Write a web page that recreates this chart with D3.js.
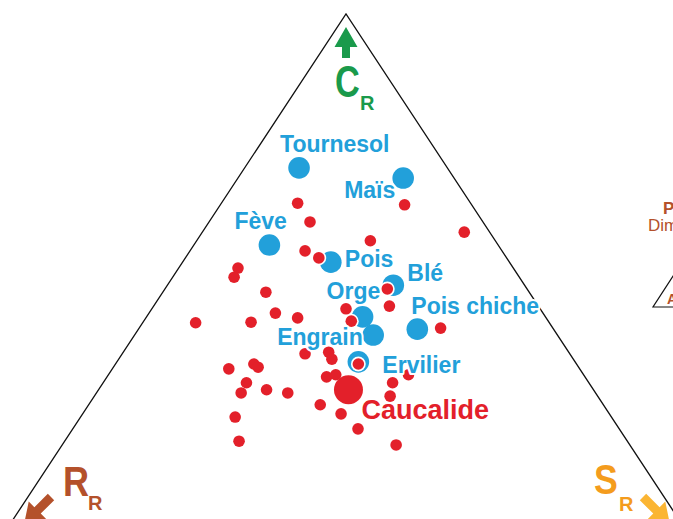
<!DOCTYPE html>
<html><head><meta charset="utf-8">
<script src="https://cdn.jsdelivr.net/npm/d3@7"></script>
<style>html,body{margin:0;padding:0;background:#fff;}svg{display:block;}</style>
</head><body>
<svg id="chart" width="673" height="519"></svg>
<script>
// ---- DATA (ternary C-S-R coordinates, %) ----
const crops = ["Tournesol","Maïs","Fève","Pois","Blé","Orge","Engrain","Pois chiche","Ervilier"];
const cropC = [71.3, 69.4, 56.9, 53.7, 49.4, 43.5, 40.1, 41.2, 35.1];
const cropS = [ 7.7, 23.4, 10.7, 21.0, 32.0, 30.6, 33.8, 39.5, 34.2];
const cropR = [21.0,  7.2, 32.4, 25.3, 18.6, 25.9, 26.1, 19.3, 30.7];

const focus = ["Caucalide"];
const focusC = [29.9];
const focusS = [35.4];
const focusR = [34.7];

const weedC = [64.7,61.2,64.4,59.3,57.7,55.8,54.5,52.6,50.9,48.1,48.7,45.5,45.0,42.7,44.2,43.3,42.5,42.4,41.4,36.6,36.9,35.6,34.7,33.8,34.7,34.1,31.2,29.3,29.9,29.3,32.3,32.7,31.2,32.7,28.7,27.1,25.4,24.8,20.3,22.6,19.6];
const weedS = [10.8,14.3,26.1,37.1,24.6,16.3,18.9, 8.4, 8.7,14.6,31.5,33.4,27.5,29.4,17.9,21.5,15.3, 7.5,42.7,25.9,29.1,30.2,34.4,16.5,19.6,20.5,20.3,20.5,23.8,27.1,31.1,32.2,41.0,42.5,41.9,32.8,36.6,21.9,24.7,40.4,47.3];
const weedR = [24.5,24.5, 9.5, 3.6,17.7,27.9,26.6,39.0,40.4,37.3,19.8,21.1,27.5,27.9,37.9,35.2,42.2,50.1,15.9,37.5,34.0,34.2,30.9,49.7,45.7,45.4,48.5,50.2,46.3,43.6,36.6,35.1,27.8,24.8,29.4,40.1,38.0,53.3,55.0,37.0,33.1];

const axisLetters = ["C","R","S"];
const axisSub = "R";

// ---- LAYOUT ----
const BLUE = "#22a0da", RED = "#e3202a", GREEN = "#1a9a4b", BROWN = "#b4512b", ORANGE = "#f49c1d", ORANGE_ARROW = "#fbb533";
const FONT = "'Liberation Sans', Arial, Helvetica, sans-serif";
const cx = 346, apexY = 14, baseY = 550, halfBase = 353;

const yScale = d3.scaleLinear().domain([0, 100]).range([baseY, apexY]);      // C share
const xScale = d3.scaleLinear().domain([-100, 100]).range([cx - halfBase, cx + halfBase]); // S - R
const proj = (c, s, r) => [xScale(s - r), yScale(c)];

const svg = d3.select("#chart");

// triangle frame
const Vc = proj(100, 0, 0), Vr = proj(0, 0, 100), Vs = proj(0, 100, 0);
svg.append("path")
  .attr("d", d3.line()([Vr, Vc, Vs]))
  .attr("fill", "none").attr("stroke", "#111").attr("stroke-width", 1.3);

// crop points
const cropData = crops.map((n, i) => ({name: n, p: proj(cropC[i], cropS[i], cropR[i])}));
svg.append("g").selectAll("circle").data(cropData).join("circle")
  .attr("cx", d => d.p[0]).attr("cy", d => d.p[1]).attr("r", 10.8).attr("fill", BLUE);

// weed points (white halo layer then fill)
const weedData = weedC.map((c, i) => proj(c, weedS[i], weedR[i]));
svg.append("g").selectAll("circle").data(weedData).join("circle")
  .attr("cx", d => d[0]).attr("cy", d => d[1]).attr("r", 7.4).attr("fill", "#fff");
svg.append("g").selectAll("circle").data(weedData).join("circle")
  .attr("cx", d => d[0]).attr("cy", d => d[1]).attr("r", 5.8).attr("fill", RED);

// focus species
const focusData = focus.map((n, i) => ({name: n, p: proj(focusC[i], focusS[i], focusR[i])}));
svg.append("g").selectAll("circle").data(focusData).join("circle")
  .attr("cx", d => d.p[0]).attr("cy", d => d.p[1]).attr("r", 14.5).attr("fill", RED);

// labels
const labelOffset = {
  "Tournesol": [-19, -16], "Maïs": [-59, 20], "Fève": [-35, -16], "Pois": [14, 5],
  "Blé": [14, -4], "Orge": [-36, -18], "Engrain": [-96, 10], "Pois chiche": [-6, -15],
  "Ervilier": [24, 11], "Caucalide": [13, 29]
};
const lab = svg.append("g").attr("font-family", FONT).attr("font-weight", "bold");
lab.selectAll("text.crop").data(cropData).join("text").attr("class", "crop")
  .attr("x", d => d.p[0] + labelOffset[d.name][0]).attr("y", d => d.p[1] + labelOffset[d.name][1])
  .attr("font-size", 23).attr("fill", BLUE)
  .attr("stroke", "#fff").attr("stroke-width", 4).attr("paint-order", "stroke").attr("stroke-linejoin", "round")
  .text(d => d.name);
lab.selectAll("text.focus").data(focusData).join("text").attr("class", "focus")
  .attr("x", d => d.p[0] + labelOffset[d.name][0]).attr("y", d => d.p[1] + labelOffset[d.name][1])
  .attr("font-size", 27).attr("fill", RED)
  .attr("stroke", "#fff").attr("stroke-width", 4).attr("paint-order", "stroke").attr("stroke-linejoin", "round")
  .text(d => d.name);

// axis letters
function axisLabel(letter, x, y, size, sx, color) {
  const g = svg.append("g").attr("font-family", FONT).attr("font-weight", "bold").attr("fill", color);
  g.append("text").attr("transform", `translate(${x},${y}) scale(${sx},1)`).attr("font-size", size).text(letter);
  return g;
}
const gC = axisLabel(axisLetters[0], Vc[0] - 11, Vc[1] + 82.5, 44, 0.78, GREEN);
gC.append("text").attr("x", Vc[0] + 14).attr("y", Vc[1] + 96).attr("font-size", 20).text(axisSub);
const gR = axisLabel(axisLetters[1], 63, 495.5, 43, 0.84, BROWN);
gR.append("text").attr("x", 88).attr("y", 510).attr("font-size", 20).text(axisSub);
const gS = axisLabel(axisLetters[2], 594, 494, 42, 0.85, ORANGE);
gS.append("text").attr("x", 619).attr("y", 511).attr("font-size", 20).text(axisSub);

// arrows
function arrow(x0, y0, angleDeg, len, headLen, headHalf, shaftHalf, color) {
  const pts = [[0, -shaftHalf], [len - headLen, -shaftHalf], [len - headLen, -headHalf], [len, 0],
               [len - headLen, headHalf], [len - headLen, shaftHalf], [0, shaftHalf]];
  svg.append("path").attr("d", d3.line()(pts) + "Z")
    .attr("transform", `translate(${x0},${y0}) rotate(${angleDeg})`).attr("fill", color);
}
arrow(Vc[0], Vc[1] + 44, -90, 31, 20, 11.5, 4, GREEN);
arrow(51, 497, 135, 38, 19, 12.5, 4.5, BROWN);
arrow(643, 497, 45, 38, 19, 12.5, 4.5, ORANGE_ARROW);

// right-edge fragment of adjacent panel
const side = svg.append("g").attr("font-family", FONT).attr("fill", BROWN);
side.append("text").attr("x", 663).attr("y", 214).attr("font-size", 17).attr("font-weight", "bold").text("P");
side.append("text").attr("x", 648).attr("y", 231).attr("font-size", 17).text("Dim");
svg.append("path").attr("d", d3.line()([[697, 307], [653, 307], [675, 273]]))
  .attr("fill", "none").attr("stroke", "#111").attr("stroke-width", 1.2);
side.append("text").attr("x", 667).attr("y", 304).attr("font-size", 14).attr("font-weight", "bold").text("A");
</script>
</body></html>
